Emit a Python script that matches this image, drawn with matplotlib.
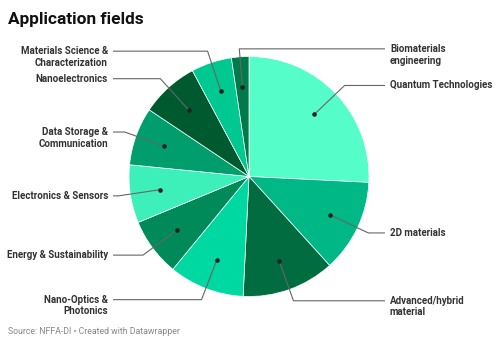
import numpy as np
import matplotlib
matplotlib.use("Agg")
import matplotlib.pyplot as plt

plt.rcParams['font.family'] = ['Roboto', 'DejaVu Sans']

# Application fields, counted projects (clockwise from 12 o'clock)
fields = ["Quantum Technologies", "2D materials", "Advanced/hybrid\nmaterial",
          "Nano-Optics &\nPhotonics", "Energy & Sustainability",
          "Electronics & Sensors", "Data Storage &\nCommunication",
          "Nanoelectronics", "Materials Science &\nCharacterization",
          "Biomaterials\nengineering"]
counts = [33, 16, 16, 13, 10, 10, 10, 10, 7, 3]
colors = ["#55fdc8", "#00b886", "#006c40", "#00d8a2", "#008a5a",
          "#3df0ba", "#009e6c", "#005a30", "#00c891", "#007a4a"]

W, H = 499, 345
fig = plt.figure(figsize=(W / 100, H / 100), dpi=100)
ax = fig.add_axes([0, 0, 1, 1])

cx, cy, R = 249, 168.5, 120
ax.pie(counts, colors=colors, startangle=90, counterclock=False,
       center=(cx, cy), radius=R,
       wedgeprops=dict(edgecolor="white", linewidth=0.5))
ax.set_xlim(0, W)
ax.set_ylim(0, H)
ax.set_aspect("equal")
ax.axis("off")

# leader lines: dot inside the slice -> elbow -> horizontal to the label
total = sum(counts)
start = 0.0
for name, n in zip(fields, counts):
    mid = np.radians((start + n / 2) / total * 360)
    start += n
    sx, sy = np.sin(mid), np.cos(mid)
    dot = (cx + 0.75 * R * sx, cy + 0.75 * R * sy)
    elbow = (cx + 1.1 * R * sx, cy + 1.1 * R * sy)
    right = sx > -0.1
    if right and sx < 0:
        elbow = (elbow[0], elbow[1] - 4)
    end_x = cx + 136 if right else cx - 136
    ax.plot([dot[0], elbow[0], end_x], [dot[1], elbow[1], elbow[1]],
            color="#666666", lw=0.8, solid_capstyle="butt")
    ax.plot(*dot, "o", color="#222222", ms=2.3)
    tx = end_x + 5 if right else end_x - 5
    for k, line in enumerate(name.split("\n")):
        ax.text(tx, elbow[1] - k * 11.7, line, ha="left" if right else "right",
                va="center", fontsize=7.0, fontweight="bold", color="#333333")

ax.text(8, H - 24, "Application fields", fontsize=12.4, fontweight="bold",
        color="#111111", va="baseline")
ax.text(8, H - 334, "Source: NFFA-DI • Created with Datawrapper", fontsize=6.3,
        color="#888888", va="baseline")

fig.savefig("out.png", dpi=100)
